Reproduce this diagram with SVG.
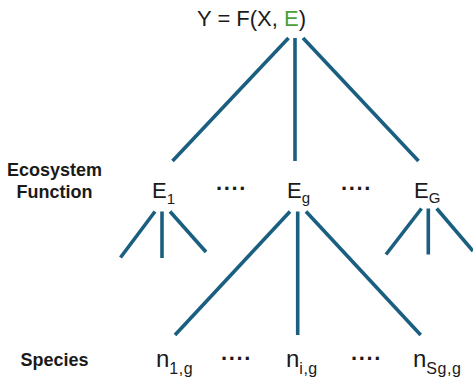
<svg xmlns="http://www.w3.org/2000/svg" width="473" height="378" viewBox="0 0 473 378">
<style>
.t{font-family:"Liberation Sans",Arial,sans-serif;fill:#1a1a1a}
.lbl{font-size:18px;font-weight:bold;text-anchor:middle}
.e{font-size:22px}
.n{font-size:24px}
.sub{font-size:15px}
.nsub{font-size:16px;letter-spacing:0.5px}
.dots{font-size:22px;font-weight:bold;letter-spacing:1.6px}
.c line{stroke:#1b5f80;stroke-width:3.6;stroke-linecap:butt}
</style>
<rect width="473" height="378" fill="#ffffff"/>
<g id="connectors" class="c">
<line x1="288.5" y1="38" x2="172.5" y2="161"/>
<line x1="295" y1="38" x2="295" y2="161"/>
<line x1="303" y1="38" x2="418.5" y2="161"/>
<line x1="155" y1="211.5" x2="120.5" y2="257.5"/>
<line x1="162" y1="211.5" x2="162" y2="258"/>
<line x1="170" y1="211.5" x2="206" y2="252"/>
<line x1="290" y1="211.5" x2="175" y2="335"/>
<line x1="297.7" y1="211.5" x2="297.7" y2="335"/>
<line x1="306" y1="211.5" x2="420.7" y2="335"/>
<line x1="421.5" y1="208.5" x2="386" y2="254.5"/>
<line x1="428.3" y1="208.5" x2="428.3" y2="254.5"/>
<line x1="436.7" y1="208.5" x2="473" y2="251"/>
</g>
<g id="title"><text class="t e" x="197" y="26">Y = F(X, <tspan fill="#4c9f38">E</tspan>)</text></g>
<g id="label-ecosystem"><text class="t lbl" x="54.5" y="176">Ecosystem</text><text class="t lbl" x="54.5" y="198">Function</text></g>
<g id="label-species"><text class="t lbl" x="54.5" y="365.5">Species</text></g>
<g id="E1"><text class="t e" x="152" y="198">E<tspan class="sub" dy="6">1</tspan></text></g>
<g id="dotsE1"><text class="t dots" x="216" y="190">....</text></g>
<g id="Eg"><text class="t e" x="287" y="198">E<tspan class="sub" dy="5">g</tspan></text></g>
<g id="dotsE2"><text class="t dots" x="341" y="190">....</text></g>
<g id="EG"><text class="t e" x="414" y="198">E<tspan class="sub" dy="5">G</tspan></text></g>
<g id="n1g"><text class="t n" x="156" y="367">n<tspan class="nsub" dy="7">1,g</tspan></text></g>
<g id="dotsN1"><text class="t dots" x="221" y="360">....</text></g>
<g id="nig"><text class="t n" x="286" y="367">n<tspan class="nsub" dy="7">i,g</tspan></text></g>
<g id="dotsN2"><text class="t dots" x="351" y="360">....</text></g>
<g id="nSgg"><text class="t n" x="413" y="367">n<tspan class="nsub" dy="7">Sg,g</tspan></text></g>
</svg>
